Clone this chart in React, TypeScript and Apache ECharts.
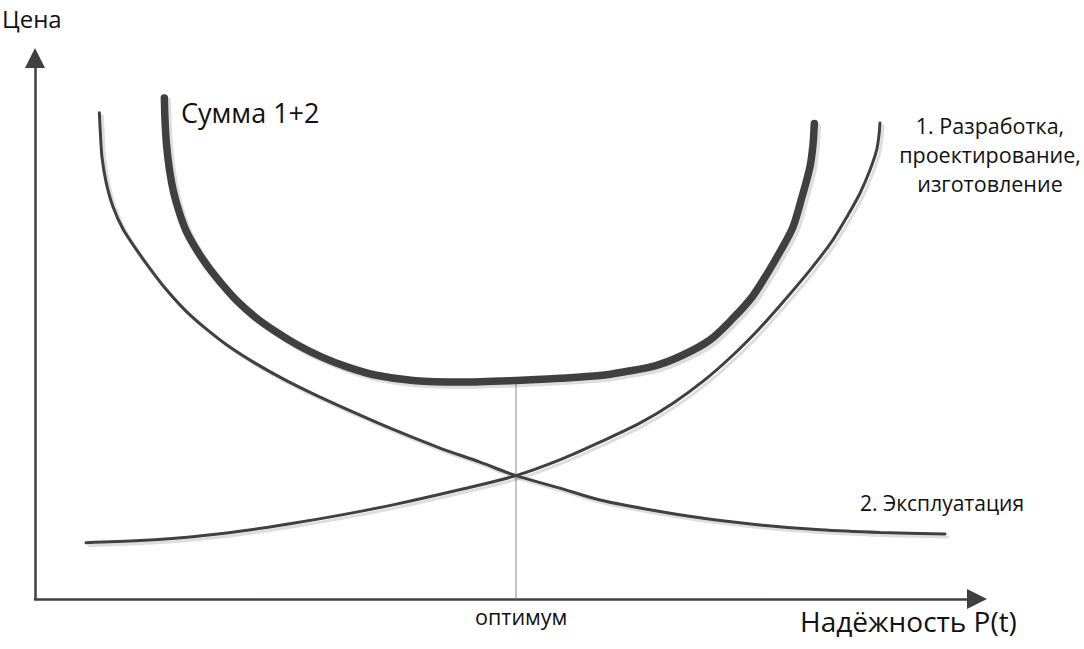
import React, { useEffect, useRef } from "react";
import * as echarts from "echarts";

// Values in abstract units: reliability (x, 0..100) vs price (y, 0..100)
const designCost: [number, number][] = [
  [5.41, 10.4], [11.15, 10.8], [16.77, 11.5], [22.1, 12.6], [27.39, 14.0], [32.7, 15.6],
  [38.0, 17.4], [44.6, 20.0], [51.06, 22.8], [55.7, 25.7], [59.98, 29.0], [64.2, 32.5],
  [67.73, 36.2], [71.1, 40.5], [74.1, 45.1], [76.96, 50.1], [79.41, 54.9], [82.27, 60.8],
  [84.71, 66.4], [86.31, 71.0], [87.58, 75.0], [88.64, 79.3], [89.35, 83.0], [89.6, 85.8],
  [89.7, 88.0],
];
const operationCost: [number, number][] = [
  [6.83, 89.9], [6.95, 85.8], [7.11, 81.7], [7.54, 77.1], [8.28, 72.5], [9.34, 68.4],
  [10.8, 64.5], [12.32, 60.8], [13.98, 57.1], [15.92, 53.4], [18.05, 50.1], [20.49, 46.8],
  [23.36, 43.6], [26.54, 40.5], [30.04, 37.5], [33.97, 34.4], [38.22, 31.2], [42.99, 27.9],
  [47.24, 25.3], [51.06, 22.8], [55.73, 20.5], [59.98, 18.3], [65.29, 16.5], [70.59, 15.0],
  [76.96, 13.7], [83.33, 12.8], [89.7, 12.3], [96.6, 12.0],
];
const totalCost: [number, number][] = [
  [13.73, 92.6], [13.8, 88.6], [13.96, 84.0], [14.28, 79.3], [14.7, 75.3], [15.29, 71.6],
  [16.03, 68.1], [17.17, 64.5], [18.37, 61.4], [19.75, 58.4], [21.34, 55.3], [23.25, 52.3],
  [25.48, 49.5], [27.92, 46.9], [30.47, 44.7], [33.12, 42.9], [36.09, 41.4], [40.13, 40.4],
  [45.12, 40.1], [51.14, 40.4], [55.73, 40.8], [59.98, 41.3], [62.63, 42.0], [65.82, 43.1],
  [68.79, 45.1], [71.66, 47.9], [74.1, 51.9], [76.11, 55.8], [77.71, 60.1], [79.19, 64.5],
  [80.47, 68.8], [81.42, 74.3], [82.27, 79.9], [82.59, 84.0], [82.73, 87.9],
];
const optimumLine: [number, number][] = [[51.06, 0], [51.06, 40.4]];

const yAxisName = "Цена";
const xAxisName = "Надёжность P(t)";
const totalLabel = "Сумма 1+2";
const designLabel = "1. Разработка,\nпроектирование,\nизготовление";
const operationLabel = "2. Эксплуатация";
const optimumLabel = "оптимум";

const INK = "#404040";
const FONT = "'Open Sans', 'Noto Sans', sans-serif";

export default function App() {
  const ref = useRef<HTMLDivElement>(null);
  useEffect(() => {
    if (!ref.current) return;
    const chart = echarts.init(ref.current, undefined, { renderer: "svg" });
    const shadow = {
      shadowColor: "rgba(0,0,0,0.13)",
      shadowOffsetX: 3,
      shadowOffsetY: 3,
      shadowBlur: 1,
    };
    chart.setOption({
      animation: false,
      backgroundColor: "#ffffff",
      grid: { left: 35, right: 107, top: 58, bottom: 50 },
      xAxis: {
        type: "value",
        min: 0,
        max: 100,
        splitLine: { show: false },
        axisTick: { show: false },
        axisLabel: { show: false },
        axisLine: {
          show: true,
          lineStyle: { color: INK, width: 2.5 },
          symbol: ["none", "triangle"],
          symbolSize: [20, 20],
        },
      },
      yAxis: {
        type: "value",
        min: 0,
        max: 100,
        splitLine: { show: false },
        axisTick: { show: false },
        axisLabel: { show: false },
        axisLine: {
          show: true,
          lineStyle: { color: INK, width: 2.5 },
          symbol: ["none", "triangle"],
          symbolSize: [20, 20],
        },
      },
      series: [
        {
          type: "line",
          data: optimumLine,
          symbol: "none",
          lineStyle: { color: "#8a8a8a", width: 1 },
          z: 1,
        },
        {
          type: "line",
          data: designCost,
          smooth: 0.3,
          symbol: "none",
          lineStyle: { color: INK, width: 3, cap: "round", ...shadow },
          z: 2,
        },
        {
          type: "line",
          data: operationCost,
          smooth: 0.3,
          symbol: "none",
          lineStyle: { color: INK, width: 3, cap: "round", ...shadow },
          z: 2,
        },
        {
          type: "line",
          data: totalCost,
          smooth: 0.3,
          symbol: "none",
          lineStyle: { color: INK, width: 7.5, cap: "round", ...shadow },
          z: 3,
        },
      ],
      graphic: [
        {
          type: "text",
          left: 2,
          top: 6,
          style: { text: yAxisName, font: `24px ${FONT}`, fill: "#111" },
        },
        {
          type: "text",
          left: 181,
          top: 99,
          style: { text: totalLabel, font: `27px ${FONT}`, fill: "#111" },
        },
        {
          type: "text",
          x: 990,
          y: 111,
          style: {
            text: designLabel,
            font: `21.5px ${FONT}`,
            fill: "#111",
            align: "center",
            lineHeight: 29,
          },
        },
        {
          type: "text",
          left: 860,
          top: 492,
          style: { text: operationLabel, font: `21px ${FONT}`, fill: "#111" },
        },
        {
          type: "text",
          left: 475,
          top: 605,
          style: { text: optimumLabel, font: `21.5px ${FONT}`, fill: "#111" },
        },
        {
          type: "text",
          left: 800,
          top: 607,
          style: { text: xAxisName, font: `28px ${FONT}`, fill: "#111" },
        },
      ],
    });
    return () => chart.dispose();
  }, []);
  return (
    <div
      ref={ref}
      style={{ position: "fixed", left: 0, top: 0, width: 1084, height: 649 }}
    />
  );
}
